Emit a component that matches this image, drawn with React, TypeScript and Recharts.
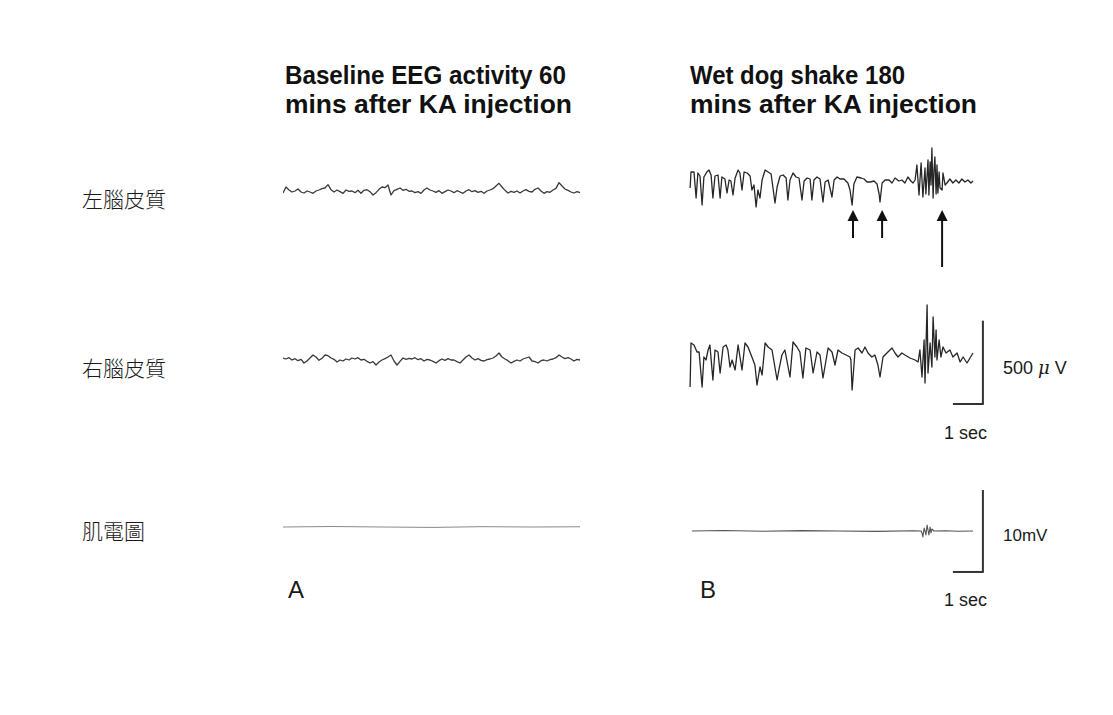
import React from 'react';
import { LineChart, Line, XAxis, YAxis, ReferenceLine, ReferenceDot } from 'recharts';

// horizontal scale shared by every trace (the 1 sec bar is 30px)
const PX_PER_SEC = 30;
// sampling interval of the panel A traces
const A_DT = 0.1;

// panel A: baseline, µV, one value every A_DT
const leftCortexA = [
  -12, 24, 6, -6, 0, 12, -6, -12, 0, -6, -14, 0, 6, 14, 18, 38, 8, -6, 6, -4,
  -14, 6, -2, 0, -10, 4, -14, 4, 8, -4, -24, -10, 10, 24, 20, 36, -24, 2, 10, 18,
  4, 10, -2, 0, -10, -4, -14, 6, 18, 6, 0, -8, 2, -14, -4, 6, 0, -10, 2, -6,
  -14, 0, 8, -4, 2, -8, -2, -14, 0, 6, 14, 30, 46, 24, 4, -12, -2, -8, 0, -12,
  0, 8, -2, -6, 10, 18, 0, -14, -4, -8, 6, 16, 50, 30, 12, 4, -6, -12, -4, -10,
];
const rightCortexA = [
  12, 6, 14, 0, 8, -4, 4, -18, -6, 12, 30, 18, -2, 10, 30, 26, 12, 4, -12, 0,
  -6, 6, 0, 12, 6, 14, 0, 4, -8, -18, -10, -30, -12, 0, 8, 18, 30, -6, -30, -8,
  12, 4, 10, 6, 14, 2, 8, -6, 4, 0, -8, -18, -4, 6, -2, 8, 0, 0, -10, -18,
  0, 18, 30, 12, 0, 8, -2, -6, 2, 6, 12, 24, 42, 18, 6, -4, -18, -8, 0, -6,
  6, 12, 18, -6, -10, -18, -4, 0, -6, 2, 6, 14, 30, 18, 8, 14, 6, -6, 4, 0,
];
// EMG panel A, [sec, mV]
const emgA: [number, number][] = [
  [0, 0], [1.6, 0.06], [3.3, 0], [5.0, -0.05], [6.6, 0.04], [8.3, 0], [9.9, 0.03],
];

// panel B: wet dog shake, [sec, µV]
const leftCortexB: [number, number][] = [
  [0.07, -30], [0.1, 66], [0.2, 66], [0.27, -90], [0.33, 60], [0.4, 42], [0.47, -132],
  [0.53, 36], [0.63, 66], [0.7, 78], [0.77, 48], [0.83, -90], [0.9, 42], [1.0, 48],
  [1.07, -90], [1.13, 36], [1.23, 24], [1.3, -60], [1.37, 18], [1.43, 12], [1.5, -72],
  [1.57, 30], [1.67, 78], [1.73, 60], [1.8, -42], [1.87, 66], [1.97, 60], [2.07, 42],
  [2.13, -42], [2.2, -12], [2.27, -144], [2.33, -42], [2.4, -90], [2.47, 18], [2.57, 78],
  [2.67, 66], [2.77, 54], [2.9, -120], [2.97, -24], [3.07, 42], [3.17, 48], [3.27, 30],
  [3.33, -102], [3.4, 18], [3.5, 60], [3.6, 36], [3.7, 30], [3.8, -102], [3.87, 12],
  [3.97, 30], [4.07, 24], [4.13, -102], [4.2, 18], [4.3, 36], [4.4, 24], [4.5, -114],
  [4.57, 6], [4.67, 18], [4.8, -84], [4.87, 18], [4.97, 36], [5.07, 24], [5.2, 24],
  [5.33, 0], [5.4, -42], [5.47, -132], [5.53, -6], [5.63, 36], [5.77, 30], [5.87, 24],
  [5.97, 6], [6.07, 6], [6.2, 12], [6.3, -6], [6.37, -66], [6.4, -114], [6.47, 0],
  [6.57, 18], [6.7, 18], [6.8, 0], [6.9, 30], [7.03, 12], [7.13, 18], [7.23, 0],
  [7.33, 36], [7.43, 12], [7.5, 0], [7.57, 18], [7.63, 108], [7.7, -72], [7.77, 120],
  [7.83, -84], [7.9, 90], [7.93, -66], [8.0, 138], [8.03, -72], [8.07, 126], [8.1, -12],
  [8.13, 210], [8.17, -90], [8.2, 78], [8.23, 156], [8.27, -66], [8.3, 108], [8.33, -60],
  [8.37, 66], [8.4, -30], [8.47, -42], [8.5, 60], [8.57, -12], [8.63, 0], [8.73, 24],
  [8.83, 0], [8.93, 18], [9.03, 0], [9.13, 24], [9.23, 6], [9.33, 18], [9.43, 0], [9.5, 12],
];
const rightCortexB: [number, number][] = [
  [0.07, -234], [0.1, 30], [0.2, 18], [0.3, -24], [0.37, -24], [0.47, -234], [0.53, -54],
  [0.6, -72], [0.67, -12], [0.73, 18], [0.83, -192], [0.9, -12], [1.0, -24], [1.07, -150],
  [1.17, 6], [1.27, 18], [1.33, -12], [1.4, -114], [1.47, -72], [1.57, -132], [1.67, 18],
  [1.8, -132], [1.9, 30], [2.0, 6], [2.13, -54], [2.23, -102], [2.3, -222], [2.4, -114],
  [2.47, -162], [2.57, 30], [2.67, 6], [2.8, -12], [2.97, -192], [3.03, -132], [3.13, -42],
  [3.23, -12], [3.4, -174], [3.5, 36], [3.63, 6], [3.73, -24], [3.83, -180], [3.93, 0],
  [4.07, -12], [4.17, -150], [4.3, -24], [4.4, -42], [4.5, -180], [4.67, 0], [4.8, -24],
  [4.9, -102], [5.0, -12], [5.13, -30], [5.27, -42], [5.4, -54], [5.43, -72], [5.47, -252],
  [5.57, -12], [5.67, 0], [5.8, -30], [5.9, 6], [6.0, -30], [6.13, -54], [6.23, -42],
  [6.33, -102], [6.4, -174], [6.5, -54], [6.63, -30], [6.8, 0], [6.9, -30], [7.0, -54],
  [7.13, -30], [7.23, -42], [7.4, -60], [7.57, -72], [7.67, -84], [7.73, -12], [7.8, -174],
  [7.87, 48], [7.9, -210], [7.97, 258], [8.0, -150], [8.07, 30], [8.13, -114], [8.17, 186],
  [8.23, -54], [8.27, 108], [8.3, -72], [8.37, 48], [8.43, -54], [8.5, 6], [8.6, -30],
  [8.73, -12], [8.83, -54], [8.97, -30], [9.07, -84], [9.17, -54], [9.3, -90], [9.4, -60],
  [9.5, -30],
];
// EMG panel B, [sec, mV]
const emgB: [number, number][] = [
  [0.13, 0], [1.2, 0.05], [2.5, -0.04], [3.8, 0.04], [5.0, 0], [6.3, -0.05], [7.5, 0.03],
  [7.77, 0], [7.8, -0.24], [7.83, -0.73], [7.87, 0.37], [7.9, 0], [7.93, -0.49], [7.97, 0.73],
  [8.0, 0.12], [8.03, -0.49], [8.07, 0.49], [8.1, -0.24], [8.13, 0.24], [8.2, 0],
  [8.6, 0.03], [9.0, -0.03], [9.5, 0],
];

// arrows under the left cortex trace in panel B (sec, tail µV)
const arrowTimes = [5.5, 6.47, 8.47];
const arrowTails = [-330, -330, -504];
const ARROW_TIP = -162;

// calibration bars
const EEG_BAR_UV = 500;
const EMG_BAR_MV = 10;
const BAR_SEC = 1;
const BAR_AT = 9.83;

// panel titles: [text, x, baseline, width]
const titles: [string, number, number, number][] = [
  ['Baseline EEG activity 60', 285, 84, 281],
  ['mins after KA injection', 285, 113, 287],
  ['Wet dog shake 180', 690, 84, 215],
  ['mins after KA injection', 690, 113, 287],
];

const pairs = (d: [number, number][]) => d.map(([t, v]) => ({ t, v }));
const sampled = (d: number[]) => d.map((v, i) => ({ t: i * A_DT, v }));

const sans = '"Liberation Sans", Arial, sans-serif';
const cjk = '"Noto Sans CJK TC", "Noto Sans CJK SC", sans-serif';

function Trace({ x, y, w, h, data, yDomain, color = '#262626', sw = 1.3, children }: any) {
  return (
    <div style={{ position: 'absolute', left: x, top: y }}>
      <LineChart width={w} height={h} data={data} margin={{ top: 0, right: 0, bottom: 0, left: 0 }}>
        <XAxis type="number" dataKey="t" domain={[0, w / PX_PER_SEC]} hide allowDataOverflow />
        <YAxis type="number" domain={yDomain} hide allowDataOverflow />
        <Line type="linear" dataKey="v" stroke={color} strokeWidth={sw} dot={false}
          strokeLinejoin="round" isAnimationActive={false} />
        {children}
      </LineChart>
    </div>
  );
}

const bar = (lo: number, hi: number) => [
  <ReferenceLine key="v" segment={[{ x: BAR_AT, y: lo }, { x: BAR_AT, y: hi }]} stroke="#333" strokeWidth={2} ifOverflow="visible" />,
  <ReferenceLine key="h" segment={[{ x: BAR_AT - BAR_SEC, y: lo }, { x: BAR_AT + 0.03, y: lo }]} stroke="#333" strokeWidth={2} ifOverflow="visible" />,
];

function Txt({ x, cy, size, children, font = sans, weight = 400 }: any) {
  return (
    <div style={{ position: 'absolute', left: x, top: cy - size / 2, fontSize: size, lineHeight: `${size}px`,
      fontFamily: font, fontWeight: weight, color: '#1a1a1a', whiteSpace: 'nowrap' }}>{children}</div>
  );
}

export default function App() {
  return (
    <div style={{ position: 'fixed', left: 0, top: 0, width: 1113, height: 715, background: '#fff', overflow: 'hidden' }}>
      <svg width={1113} height={130} style={{ position: 'absolute', left: 0, top: 0 }}>
        {titles.map(([s, x, y, w], i) => (
          <text key={i} x={x} y={y} textLength={w} lengthAdjust="spacingAndGlyphs"
            fontFamily={sans} fontWeight={700} fontSize={26} fill="#111">{s}</text>
        ))}
      </svg>

      <Txt x={82} cy={198} size={21} font={cjk} weight={300}>左腦皮質</Txt>
      <Txt x={82} cy={367} size={21} font={cjk} weight={300}>右腦皮質</Txt>
      <Txt x={82} cy={530} size={21} font={cjk} weight={300}>肌電圖</Txt>

      <Trace x={283} y={160} w={300} h={60} data={sampled(leftCortexA)} yDomain={[-174, 186]} color="#3a3a3a" />
      <Trace x={283} y={330} w={300} h={60} data={sampled(rightCortexA)} yDomain={[-180, 180]} color="#3a3a3a" />
      <Trace x={283} y={497} w={300} h={60} data={pairs(emgA)} yDomain={[-3.66, 3.66]} color="#8a8a84" sw={1} />

      <Trace x={688} y={140} w={300} h={140} data={pairs(leftCortexB)} yDomain={[-582, 258]}>
        {arrowTimes.map((t, i) => (
          <ReferenceLine key={'s' + i} segment={[{ x: t, y: arrowTails[i] }, { x: t, y: ARROW_TIP - 60 }]}
            stroke="#111" strokeWidth={2} ifOverflow="visible" />
        ))}
        {arrowTimes.map((t, i) => (
          <ReferenceDot key={'d' + i} x={t} y={ARROW_TIP} ifOverflow="visible"
            shape={(p: any) => <path d={`M${p.cx},${p.cy} l-5.5,11 l11,0 z`} fill="#111" />} />
        ))}
      </Trace>
      <Trace x={688} y={290} w={300} h={130} data={pairs(rightCortexB)} yDomain={[-432, 348]}>
        {bar(-336, -336 + EEG_BAR_UV)}
      </Trace>
      <Trace x={688} y={480} w={300} h={100} data={pairs(emgB)} yDomain={[-5.98, 6.22]} color="#555" sw={1.1}>
        {bar(-EMG_BAR_MV / 2, EMG_BAR_MV / 2)}
      </Trace>

      <Txt x={1003} cy={368} size={18}>500 <span style={{ fontFamily: '"DejaVu Serif", serif', fontStyle: 'italic' }}>μ</span> V</Txt>
      <Txt x={944} cy={433} size={18}>1 sec</Txt>
      <Txt x={1003} cy={535} size={17}>10mV</Txt>
      <Txt x={944} cy={600} size={18}>1 sec</Txt>

      <Txt x={288} cy={590} size={24}>A</Txt>
      <Txt x={700} cy={590} size={24}>B</Txt>
    </div>
  );
}
